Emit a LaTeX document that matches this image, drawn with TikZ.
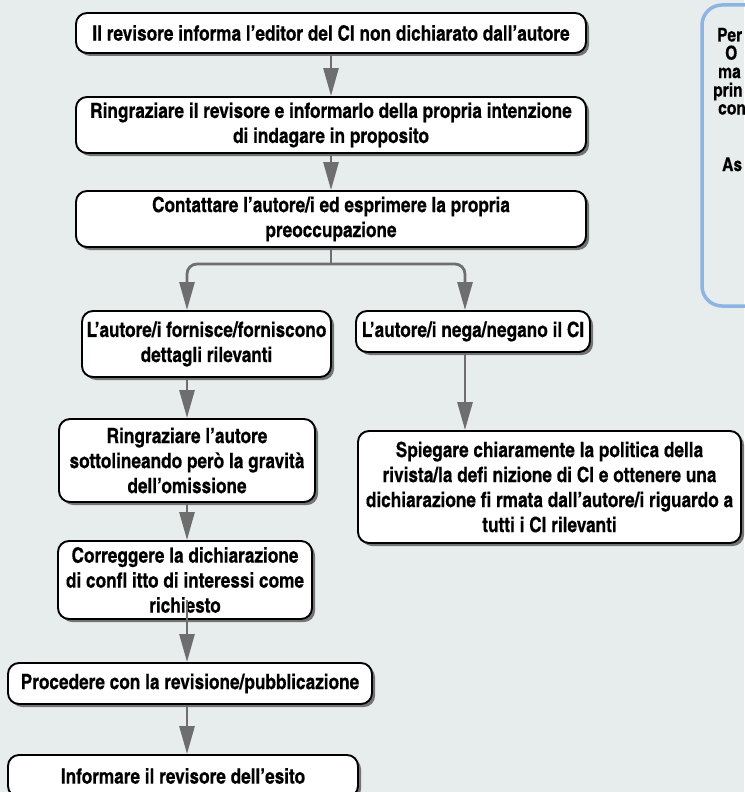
\documentclass[tikz,border=0pt]{standalone}
\usepackage{fontspec}
\setmainfont{TeX Gyre Heros Cn}[FakeBold=0.4]
\usetikzlibrary{arrows.meta,shadows,calc}
\definecolor{bg}{HTML}{E7EDED}
\definecolor{arrowgray}{HTML}{6E6E6E}
\definecolor{bluebox}{HTML}{8DB4E2}
\tikzset{
 box/.style={draw=black, line width=1.9pt, fill=white, rounded corners=11pt, inner sep=0pt, align=center,
   font=\bfseries\fontsize{21}{25}\selectfont,
   drop shadow={shadow xshift=3pt, shadow yshift=-3pt, fill=black!55, opacity=1}},
 conn/.style={draw=arrowgray, line width=2.8pt},
 arr/.style={conn, -{Triangle[length=28pt,width=15pt]}},
 side/.style={anchor=base west, font=\bfseries\fontsize{19}{18}\selectfont, inner sep=0pt}
}
\begin{document}
\begin{tikzpicture}[x=1pt,y=-1pt]
\fill[bg] (0,0) rectangle (744,792);
\useasboundingbox (0,0) rectangle (744,792);

% side box (cut by the right edge)
\draw[bluebox, line width=3.5pt, rounded corners=20pt] (702,5) rectangle (790,306);
\node[side] (s1) at (717,41.5) {Per};
\node[side] (s2) at (725,59.5) {O};
\node[side] (s3) at (718,78) {ma};
\node[side] (s4) at (713,96.5) {prin};
\node[side] (s5) at (718,114.5) {con};
\node[side] (s6) at (722,171) {As};

\node[box, minimum width=510pt, minimum height=40pt] (b1) at (331,33)
 {Il revisore informa l’editor del CI non dichiarato dall’autore};
\node[box, minimum width=510pt, minimum height=56pt] (b2) at (331,125)
 {Ringraziare il revisore e informarlo della propria intenzione\\di indagare in proposito};
\node[box, minimum width=510pt, minimum height=56pt] (b3) at (331,219)
 {Contattare l’autore/i ed esprimere la propria\\preoccupazione};
\node[box, minimum width=249pt, minimum height=66pt] (b4) at (206.5,344)
 {L’autore/i fornisce/forniscono\\dettagli rilevanti};
\node[box, minimum width=234pt, minimum height=41pt] (b5) at (473,331.5)
 {L’autore/i nega/negano il CI};
\node[box, minimum width=256pt, minimum height=83pt] (b6) at (187,460.5)
 {Ringraziare l’autore\\sottolineando però la gravità\\dell’omissione};
\node[box, minimum width=254pt, minimum height=78pt] (b7) at (185,580)
 {Correggere la dichiarazione\\di confl itto di interessi come\\richiesto};
\node[box, minimum width=364pt, minimum height=41pt] (b8) at (190,683.5)
 {Procedere con la revisione/pubblicazione};
\node[box, minimum width=350pt, minimum height=42pt] (b9) at (183,776)
 {Informare il revisore dell’esito};
\node[box, minimum width=383pt, minimum height=112pt] (b10) at (549.5,487)
 {Spiegare chiaramente la politica della\\rivista/la defi nizione di CI e ottenere una\\dichiarazione fi rmata dall’autore/i riguardo a\\tutti i CI rilevanti};

\coordinate (lx) at (187,0);
\coordinate (rx) at (465,0);
\coordinate (jn) at (331,264);

\draw[arr] (b1.south) -- (b2.north);
\draw[arr] (b2.south) -- (b3.north);
\draw[conn] (b3.south) -- (jn);
\draw[arr, rounded corners=10pt] (jn) -| (b4.north -| lx);
\draw[arr, rounded corners=10pt] (jn) -| (b5.north -| rx);
\draw[arr] (b4.south -| lx) -- (b6.north -| lx);
\draw[arr] (b6.south -| lx) -- (b7.north -| lx);
\draw[arr] ($(b7.south -| lx)+(0,-20)$) -- (b8.north -| lx);
\draw[arr] (b8.south -| lx) -- (b9.north -| lx);
\draw[arr] (b5.south -| rx) -- (b10.north -| rx);
\end{tikzpicture}
\end{document}
